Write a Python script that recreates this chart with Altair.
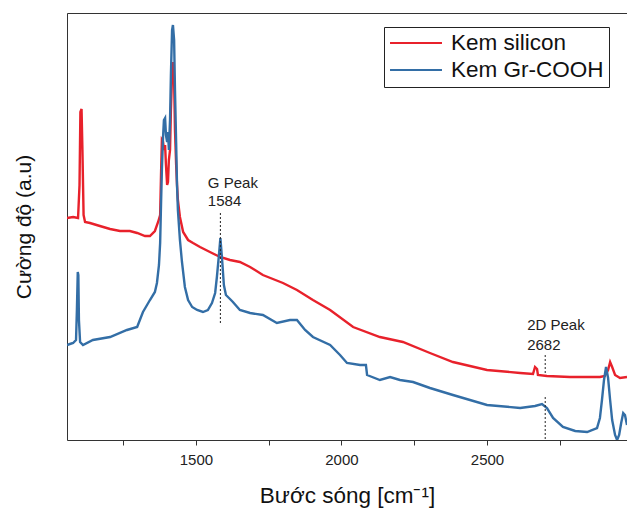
import altair as alt
import pandas as pd

# ---- data (wavenumber cm^-1, intensity a.u.) ----
silicon_x = [1057, 1078, 1095, 1100, 1103, 1107, 1110, 1114, 1119, 1136, 1170, 1205, 1239, 1273,
             1298, 1325, 1342, 1359, 1370, 1377, 1380, 1383, 1387, 1390, 1394, 1397, 1401, 1404,
             1407, 1411, 1414, 1418, 1421, 1425, 1428, 1432, 1435, 1438, 1445, 1456, 1473, 1490,
             1514, 1548, 1583, 1617, 1651, 1686, 1730, 1799, 1847, 1902, 1961, 2040, 2132, 2211,
             2304, 2383, 2500, 2614, 2658, 2665, 2672, 2675, 2706, 2785, 2844, 2888, 2905, 2916,
             2923, 2930, 2940, 2957, 2981]
silicon_y = [222, 223, 222, 255, 328, 331, 290, 225, 218, 217, 214, 211, 209, 209,
             207, 204, 204, 209, 218, 225, 265, 300, 298, 290, 295, 275, 255, 258,
             280, 290, 330, 365, 378, 360, 310, 275, 255, 240, 223, 208, 200, 197,
             193, 188, 183, 180, 178, 173, 165, 157, 150, 140, 130, 113, 103, 98,
             87, 78, 70, 67, 66, 73, 71, 65, 64, 63, 63, 63, 64, 70,
             78, 73, 65, 62, 63]

gr_x = [1057, 1067, 1078, 1088, 1091, 1094, 1096, 1098, 1102, 1112, 1146, 1205, 1263, 1298,
        1318, 1332, 1342, 1359, 1366, 1373, 1377, 1380, 1383, 1387, 1390, 1394, 1397, 1401,
        1404, 1407, 1411, 1414, 1418, 1421, 1425, 1428, 1432, 1435, 1438, 1445, 1452, 1462,
        1473, 1487, 1504, 1524, 1541, 1555, 1566, 1572, 1579, 1584, 1590, 1596, 1603, 1617,
        1627, 1651, 1686, 1730, 1778, 1823, 1847, 1875, 1902, 1961, 1995, 2019, 2064, 2084,
        2088, 2132, 2167, 2201, 2246, 2304, 2383, 2500, 2614, 2665, 2689, 2706, 2727, 2761,
        2803, 2844, 2878, 2888, 2895, 2902, 2909, 2916, 2923, 2930, 2940, 2947, 2954, 2961,
        2968, 2974, 2981]
gr_y = [95, 96, 97, 100, 130, 168, 165, 120, 98, 95, 100, 103, 110, 113,
        128, 135, 140, 148, 157, 175, 197, 235, 270, 303, 320, 322, 305, 298,
        308, 290, 320, 365, 410, 415, 400, 350, 297, 255, 230, 200, 178, 153,
        140, 133, 130, 128, 130, 137, 147, 163, 185, 202, 180, 155, 145, 141,
        138, 130, 127, 125, 117, 120, 120, 110, 103, 95, 85, 77, 75, 75,
        65, 60, 63, 60, 58, 52, 45, 35, 32, 34, 36, 32, 22, 13,
        9, 8, 12, 22, 40, 60, 73, 62, 40, 20, 5, 0, 5, 17,
        27, 25, 15]

series_names = ["Kem silicon", "Kem Gr-COOH"]
series_colors = ["#e8212b", "#336ea6"]

# dotted peak markers
peak_x = [1584, 2700, 2700]
peak_y_top = [227, 85, 43]
peak_y_bottom = [115, 65, 0]

# annotation texts
label_x = [1541, 1541, 2638, 2638]
label_y = [257, 239, 115, 95]
label_text = ["G Peak", "1584", "2D Peak", "2682"]

x_ticks = [1250, 1500, 1750, 2000, 2250, 2500, 2750]
x_domain = [1057, 2981]
y_domain = [0, 427]

FONT = "Liberation Sans"

lines_df = pd.DataFrame({
    "x": silicon_x + gr_x,
    "y": silicon_y + gr_y,
    "series": [series_names[0]] * len(silicon_x) + [series_names[1]] * len(gr_x),
})
peaks_df = pd.DataFrame({"x": peak_x, "y": peak_y_top, "y2": peak_y_bottom})
labels_df = pd.DataFrame({"x": label_x, "y": label_y, "text": label_text})

xscale = alt.Scale(domain=x_domain, nice=False, zero=False)
yscale = alt.Scale(domain=y_domain, nice=False, zero=False)
YTITLE = "Cường độ (a.u)"

y_axis = alt.Axis(labels=False, ticks=False, grid=False, title=YTITLE,
                  titleFont=FONT, titleFontSize=21, titleFontWeight="normal",
                  titleColor="#111", titlePadding=33, domainColor="#333")

lines = alt.Chart(lines_df).mark_line(strokeWidth=2.4, clip=True).encode(
    x=alt.X("x:Q", scale=xscale,
            axis=alt.Axis(values=x_ticks, format="d",
                          labelExpr="datum.value % 500 == 0 ? datum.label : ''",
                          grid=False, tickSize=5, tickColor="#333", domainColor="#333",
                          labelFont=FONT, labelFontSize=15, labelColor="#222",
                          labelPadding=7, title="Bước sóng [cm⁻¹]", titleFont=FONT,
                          titleFontSize=22.5, titleFontWeight="normal", titleColor="#111",
                          titlePadding=17)),
    y=alt.Y("y:Q", scale=yscale, axis=y_axis),
    color=alt.Color("series:N", scale=alt.Scale(domain=series_names, range=series_colors),
                    legend=alt.Legend(title=None, orient="none", legendX=317, legendY=14,
                                      symbolType="stroke", symbolStrokeWidth=2,
                                      symbolSize=2700, clipHeight=22, labelOffset=8,
                                      labelFont=FONT, labelFontSize=22.5,
                                      labelColor="#111", strokeColor="#222",
                                      fillColor="white", padding=5, rowPadding=4)),
)

rules = alt.Chart(peaks_df).mark_rule(strokeDash=[2, 2], color="#222", strokeWidth=1).encode(
    x=alt.X("x:Q", scale=xscale,
            axis=alt.Axis(orient="top", labels=False, ticks=False, grid=False, title=None,
                          domainColor="#333")),
    y=alt.Y("y:Q", scale=yscale, axis=y_axis),
    y2="y2:Q",
)

texts = alt.Chart(labels_df).mark_text(align="left", baseline="middle", font=FONT,
                                       fontSize=15, color="#222").encode(
    x=alt.X("x:Q", scale=xscale, axis=None),
    y=alt.Y("y:Q", scale=yscale, axis=y_axis),
    text="text:N",
)

chart = alt.layer(lines, rules, texts).resolve_axis(x="independent").properties(
    width=560, height=427,
    autosize=alt.AutoSizeParams(type="none"),
    padding={"left": 67, "top": 13, "right": 0, "bottom": 75},
).configure_view(stroke=None).configure(background="white")

chart.save("out.html", embed_options={"renderer": "svg", "actions": False})
